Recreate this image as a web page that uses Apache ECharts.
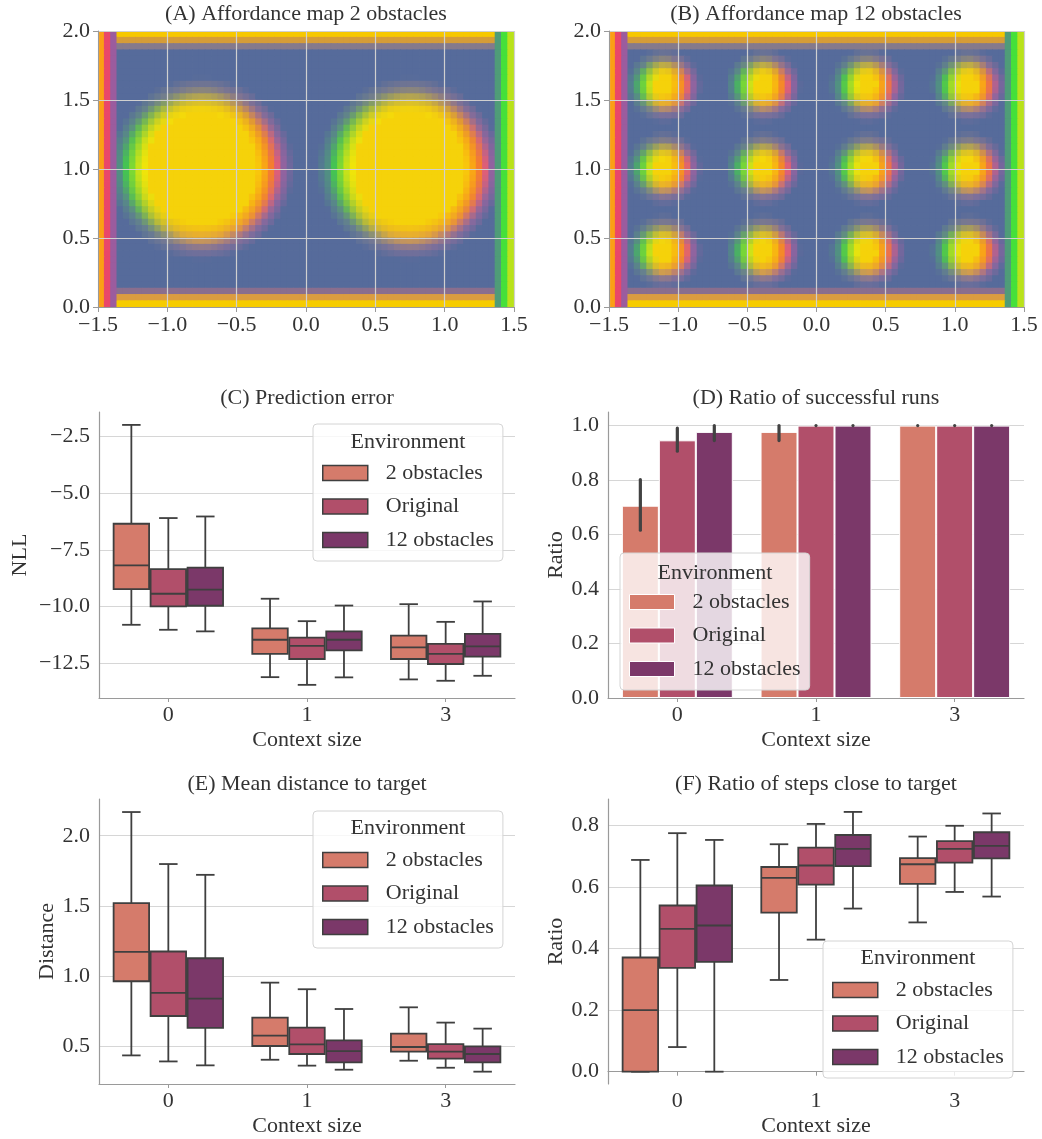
<!DOCTYPE html>
<html>
<head>
<meta charset="utf-8">
<script src="https://cdn.jsdelivr.net/npm/echarts@6/dist/echarts.min.js"></script>
<style>html,body{margin:0;padding:0;background:#fff}#chart{width:1042px;height:1139px}</style>
</head>
<body>
<div id="chart"></div>
<script>
// ================= DATA =================
const contextSizes = ['0', '1', '3'];
const environments = ['2 obstacles', 'Original', '12 obstacles'];

const obstacles2 = [[-0.75, 1.0], [0.75, 1.0]];
const obstacleRadius2 = 0.5;
const obstacles12 = [
  [-1.1, 1.6], [-0.38, 1.6], [0.37, 1.6], [1.1, 1.6],
  [-1.1, 1.0], [-0.38, 1.0], [0.37, 1.0], [1.1, 1.0],
  [-1.1, 0.4], [-0.38, 0.4], [0.37, 0.4], [1.1, 0.4]
];
const obstacleRadius12 = 0.14;

// (C) Prediction error, NLL: [min, q1, median, q3, max] per context size
const nll2    = [[-10.81, -9.24, -8.19, -6.35, -1.99], [-13.12, -12.09, -11.47, -10.97, -9.66], [-13.22, -12.32, -11.81, -11.29, -9.90]];
const nllOrig = [[-11.03, -10.00, -9.44, -8.35, -6.10], [-13.46, -12.32, -11.74, -11.38, -10.65], [-13.28, -12.54, -12.09, -11.65, -10.68]];
const nll12   = [[-11.10, -9.97, -9.26, -8.29, -6.03], [-13.13, -11.94, -11.47, -11.10, -9.96], [-13.06, -12.21, -11.76, -11.21, -9.78]];

// (D) Ratio of successful runs: mean and confidence interval
const success2    = [0.706, 0.977, 1.0];
const successOrig = [0.946, 1.0, 1.0];
const success12   = [0.977, 1.0, 1.0];
const successCi2    = [[0.616, 0.802], [0.945, 1.0], [1.0, 1.0]];
const successCiOrig = [[0.906, 0.991], [1.0, 1.0], [1.0, 1.0]];
const successCi12   = [[0.945, 1.0], [1.0, 1.0], [1.0, 1.0]];

// (E) Mean distance to target: [min, q1, median, q3, max]
const dist2    = [[0.433, 0.962, 1.171, 1.519, 2.169], [0.402, 0.500, 0.574, 0.702, 0.952], [0.395, 0.460, 0.493, 0.588, 0.776]];
const distOrig = [[0.390, 0.714, 0.879, 1.174, 1.798], [0.360, 0.443, 0.512, 0.631, 0.905], [0.345, 0.410, 0.460, 0.514, 0.667]];
const dist12   = [[0.362, 0.629, 0.838, 1.126, 1.721], [0.331, 0.383, 0.464, 0.540, 0.764], [0.317, 0.383, 0.443, 0.498, 0.624]];

// (F) Ratio of steps close to target: [min, q1, median, q3, max]
const close2    = [[0.0, 0.0, 0.200, 0.371, 0.688], [0.298, 0.517, 0.630, 0.665, 0.739], [0.485, 0.610, 0.674, 0.694, 0.764]];
const closeOrig = [[0.080, 0.337, 0.464, 0.540, 0.775], [0.429, 0.608, 0.670, 0.728, 0.805], [0.584, 0.679, 0.724, 0.749, 0.799]];
const close12   = [[0.0, 0.357, 0.475, 0.605, 0.753], [0.530, 0.668, 0.724, 0.769, 0.844], [0.569, 0.693, 0.734, 0.778, 0.839]];

// tick labels
const mapXTicks = [-1.5, -1.0, -0.5, 0.0, 0.5, 1.0, 1.5];
const mapYTicks = [0.0, 0.5, 1.0, 1.5, 2.0];
const nllTicks = [-12.5, -10.0, -7.5, -5.0, -2.5];
const ratioTicks = [0.0, 0.2, 0.4, 0.6, 0.8, 1.0];
const distTicks = [0.5, 1.0, 1.5, 2.0];
const closeTicks = [0.0, 0.2, 0.4, 0.6, 0.8];

// ================= STYLE =================
const FONT = '"Liberation Serif", "DejaVu Serif", serif';
const TEXT = '#333333';
const SPINE = '#9a9a9a';
const GRID = '#d6d6d6';
const MAP_GRID = '#d0d0d0';
const EDGE = '#3f3f3f';
const PALETTE = ['#d57b6b', '#b14f6a', '#7b3869'];

const MAP_NX = 66, MAP_NY = 44;
const MAP_CELL = 3 / MAP_NX;
const hex = h => [parseInt(h.substr(1, 2), 16), parseInt(h.substr(3, 2), 16), parseInt(h.substr(5, 2), 16)];
const BG = hex('#566b9b'), CORE = hex('#f5d20a');
const WALL = {
  left: ['#fb9f15', '#e9476a', '#9b5c9e'].map(hex),
  right: ['#b9e21a', '#45e03a', '#4f9c78'].map(hex),
  top: ['#f6c800', '#d59c38', '#857a8c'].map(hex),
  bottom: ['#f6cc00', '#db9c40', '#8a6e8e'].map(hex)
};
const RING = {
  R: ['#f8c60c', '#f9a616', '#f47e2e', '#de5f78', '#9c62a0'].map(hex),
  U: ['#f5d80a', '#eccc16', '#cbb63a', '#9c9468', '#807a8e'].map(hex),
  L: ['#f0e40a', '#c6e21a', '#7cd834', '#45c452', '#50967e'].map(hex),
  D: ['#f5cc0c', '#f0ba1c', '#e2a63c', '#a8847a', '#82729a'].map(hex)
};
const lerp = (a, b, t) => [a[0] + (b[0] - a[0]) * t, a[1] + (b[1] - a[1]) * t, a[2] + (b[2] - a[2]) * t];
const css = c => 'rgb(' + c.map(v => Math.round(v)).join(',') + ')';
function ringAlpha(r) {
  if (r <= 3) return 1;
  if (r <= 4) return 1 - 0.15 * (r - 3);
  if (r <= 5) return 0.85 - 0.5 * (r - 4);
  if (r <= 5.6) return 0.35 * (5.6 - r) / 0.6;
  return 0;
}
function cellColor(x, y, i, j, obstacles, radius, ringW) {
  if (i < 3) return WALL.left[i];
  if (i >= MAP_NX - 3) return WALL.right[MAP_NX - 1 - i];
  if (j < 3) return WALL.top[j];
  if (j >= MAP_NY - 3) return WALL.bottom[MAP_NY - 1 - j];
  let bd = Infinity, dv = [1, 0];
  obstacles.forEach(o => {
    const dx = x - o[0], dy = y - o[1], d = Math.hypot(dx, dy);
    if (d < bd) { bd = d; dv = [dx, dy]; }
  });
  const r = (bd - radius) / ringW + 2;
  if (r < 0) return CORE;
  if (r >= 5.6) return BG;
  const ang = Math.atan2(dv[1], dv[0]);
  const c = Math.cos(ang), s = Math.sin(ang);
  const w = { R: c > 0 ? c * c : 0, L: c < 0 ? c * c : 0, U: s > 0 ? s * s : 0, D: s < 0 ? s * s : 0 };
  const idx = Math.min(r, 4), i0 = Math.floor(idx), i1 = Math.min(i0 + 1, 4), t = idx - i0;
  let col = [0, 0, 0];
  Object.keys(w).forEach(k => {
    const pc = lerp(RING[k][i0], RING[k][i1], t);
    col = [col[0] + pc[0] * w[k], col[1] + pc[1] * w[k], col[2] + pc[2] * w[k]];
  });
  return lerp(BG, col, ringAlpha(r));
}
function buildMap(obstacles, radius, ringW) {
  const cells = [], colors = [];
  for (let j = 0; j < MAP_NY; j++) {
    for (let i = 0; i < MAP_NX; i++) {
      const x = -1.5 + (i + 0.5) * MAP_CELL;
      const y = 2 - (j + 0.5) * MAP_CELL;
      cells.push([x, y]);
      colors.push(css(cellColor(x, y, i, j, obstacles, radius, ringW)));
    }
  }
  return { cells, colors };
}
const map2 = buildMap(obstacles2, obstacleRadius2, MAP_CELL);
const map12 = buildMap(obstacles12, obstacleRadius12, MAP_CELL * 0.8);

const fmt1 = v => { if (Math.abs(v) < 1e-9) v = 0; return v.toFixed(1).replace('-', '\u2212'); };
const labelStyle = { fontFamily: FONT, fontSize: 22, color: TEXT };

function mapXAxis(g) {
  return {
    type: 'value', gridIndex: g, min: -1.5, max: 1.5, interval: 0.5, z: 5,
    axisLine: { show: true, onZero: false, lineStyle: { color: SPINE, width: 1 } },
    axisTick: { show: true, length: 5, lineStyle: { color: SPINE } },
    axisLabel: Object.assign({ margin: 7, formatter: fmt1, customValues: mapXTicks }, labelStyle),
    splitLine: { show: true, lineStyle: { color: MAP_GRID, width: 1.2 } }
  };
}
function mapYAxis(g) {
  return {
    type: 'value', gridIndex: g, min: 0, max: 2, interval: 0.5, z: 5,
    axisLine: { show: true, onZero: false, lineStyle: { color: SPINE, width: 1 } },
    axisTick: { show: true, length: 5, lineStyle: { color: SPINE } },
    axisLabel: Object.assign({ margin: 8, formatter: fmt1, customValues: mapYTicks }, labelStyle),
    splitLine: { show: true, lineStyle: { color: MAP_GRID, width: 1.2 } }
  };
}
function catAxis(g) {
  return {
    type: 'category', gridIndex: g, data: contextSizes,
    axisLine: { show: true, lineStyle: { color: SPINE, width: 1.2 } },
    axisTick: { show: true, alignWithLabel: true, length: 4, lineStyle: { color: SPINE } },
    axisLabel: Object.assign({ margin: 6 }, labelStyle),
    splitLine: { show: false },
    name: 'Context size', nameLocation: 'middle', nameGap: 31,
    nameTextStyle: Object.assign({}, labelStyle)
  };
}
function valAxis(g, min, max, ticks, name, gap) {
  return {
    type: 'value', gridIndex: g, min: min, max: max,
    axisLine: { show: true, onZero: false, lineStyle: { color: SPINE, width: 1.2 } },
    axisTick: { show: false, customValues: ticks },
    axisLabel: Object.assign({ margin: 9, formatter: fmt1, customValues: ticks }, labelStyle),
    splitLine: { show: true, lineStyle: { color: GRID, width: 1 } },
    name: name, nameLocation: 'middle', nameGap: gap, nameRotate: 90,
    nameTextStyle: Object.assign({}, labelStyle)
  };
}

function mapSeries(g, map) {
  return {
    type: 'custom', xAxisIndex: g, yAxisIndex: g, data: map.cells, silent: true,
    animation: false, progressive: 0, clip: true, z: 1,
    encode: { x: 0, y: 1 },
    renderItem: function (params, api) {
      const x = api.value(0), y = api.value(1), h = MAP_CELL / 2;
      const p0 = api.coord([x - h, y + h]);
      const p1 = api.coord([x + h, y - h]);
      return {
        type: 'rect',
        shape: { x: p0[0] - 0.4, y: p0[1] - 0.4, width: p1[0] - p0[0] + 0.8, height: p1[1] - p0[1] + 0.8 },
        style: { fill: map.colors[params.dataIndex] }
      };
    }
  };
}

function boxSeries(g, k, stats) {
  return {
    type: 'custom', name: environments[k], xAxisIndex: g, yAxisIndex: g,
    itemStyle: { color: PALETTE[k] }, silent: true,
    data: stats.map((s, i) => [i].concat(s)),
    encode: { x: 0, y: [1, 2, 3, 4, 5] },
    renderItem: function (params, api) {
      const c = api.value(0);
      const band = api.size([1, 0])[0];
      const w = band * 0.8 / 3;
      const bw = w - 1.5;
      const cx = api.coord([c, api.value(3)])[0] + (k - 1) * w;
      const yv = idx => api.coord([c, api.value(idx)])[1];
      const yMin = yv(1), yQ1 = yv(2), yMed = yv(3), yQ3 = yv(4), yMax = yv(5);
      const ls = { stroke: EDGE, lineWidth: 1.8, fill: null };
      return {
        type: 'group', children: [
          { type: 'line', shape: { x1: cx, y1: yQ1, x2: cx, y2: yMin }, style: ls },
          { type: 'line', shape: { x1: cx, y1: yQ3, x2: cx, y2: yMax }, style: ls },
          { type: 'line', shape: { x1: cx - w / 4, y1: yMin, x2: cx + w / 4, y2: yMin }, style: ls },
          { type: 'line', shape: { x1: cx - w / 4, y1: yMax, x2: cx + w / 4, y2: yMax }, style: ls },
          { type: 'rect', shape: { x: cx - bw / 2, y: yQ3, width: bw, height: yQ1 - yQ3 }, style: { fill: PALETTE[k], stroke: EDGE, lineWidth: 1.8 } },
          { type: 'line', shape: { x1: cx - bw / 2, y1: yMed, x2: cx + bw / 2, y2: yMed }, style: ls }
        ]
      };
    }
  };
}
function barSeries(k, values) {
  return {
    type: 'bar', name: environments[k], xAxisIndex: 3, yAxisIndex: 3, data: values,
    barGap: '0%', barCategoryGap: '20%', silent: true,
    itemStyle: { color: PALETTE[k], borderColor: '#ffffff', borderWidth: 1 }
  };
}
function ciSeries(k, ci) {
  return {
    type: 'custom', name: 'CI ' + environments[k], xAxisIndex: 3, yAxisIndex: 3, z: 3, silent: true,
    data: ci.map((r, i) => [i, r[0], r[1]]),
    encode: { x: 0, y: [1, 2] },
    renderItem: function (params, api) {
      const c = api.value(0);
      const w = api.size([1, 0])[0] * 0.8 / 3;
      const cx = api.coord([c, api.value(1)])[0] + (k - 1) * w;
      const y1 = api.coord([c, api.value(1)])[1];
      const y2 = api.coord([c, api.value(2)])[1];
      return { type: 'line', shape: { x1: cx, y1: y1, x2: cx, y2: Math.min(y2, y1 - 0.01) }, style: { stroke: '#424242', lineWidth: 3.2, lineCap: 'round' } };
    }
  };
}
function legendAt(left, top, edgeColor, edgeWidth) {
  return {
    orient: 'vertical', left: left, top: top, itemWidth: 45, itemHeight: 15, itemGap: 11.5,
    padding: [38, 9, 10, 9], selectedMode: false,
    backgroundColor: 'rgba(255,255,255,0.8)', borderColor: '#d4d4d4', borderWidth: 1, borderRadius: 4,
    textStyle: { fontFamily: FONT, fontSize: 22, color: TEXT, lineHeight: 20, padding: [0, 0, 0, 13] },
    data: environments.map((n, k) => ({ name: n, icon: 'rect', itemStyle: { color: PALETTE[k], borderColor: edgeColor, borderWidth: edgeWidth } }))
  };
}
function legendTitle(x, y) {
  return {
    type: 'text', x: x, y: y, z: 100,
    style: { text: 'Environment', font: '22px ' + FONT, fill: TEXT, textAlign: 'center', textVerticalAlign: 'middle', align: 'center', verticalAlign: 'middle' }
  };
}
function titleAt(text, x, top) {
  return { text: text, left: x, top: top, textAlign: 'center', padding: 0, textStyle: { fontFamily: FONT, fontSize: 22, fontWeight: 'normal', color: TEXT } };
}

const option = {
  animation: false,
  textStyle: { fontFamily: FONT },
  title: [
    titleAt('(A) Affordance map 2 obstacles', 306, 3),
    titleAt('(B) Affordance map 12 obstacles', 816, 3),
    titleAt('(C) Prediction error', 307, 387),
    titleAt('(D) Ratio of successful runs', 816, 387),
    titleAt('(E) Mean distance to target', 307, 773),
    titleAt('(F) Ratio of steps close to target', 816, 773)
  ],
  grid: [
    { left: 98, top: 31, width: 416, height: 276 },
    { left: 609, top: 31, width: 415, height: 276 },
    { left: 99, top: 412, width: 416, height: 286 },
    { left: 608, top: 412, width: 416, height: 286 },
    { left: 99, top: 799, width: 416, height: 285 },
    { left: 608, top: 799, width: 416, height: 285 }
  ],
  xAxis: [mapXAxis(0), mapXAxis(1), catAxis(2), catAxis(3), catAxis(4), catAxis(5)],
  yAxis: [
    mapYAxis(0), mapYAxis(1),
    valAxis(2, -14.04, -1.42, nllTicks, 'NLL', 68),
    valAxis(3, 0, 1.05, ratioTicks, 'Ratio', 41),
    valAxis(4, 0.229, 2.262, distTicks, 'Distance', 41),
    valAxis(5, -0.040, 0.886, closeTicks, 'Ratio', 41)
  ],
  legend: [
    legendAt(313, 424, EDGE, 1.5),
    legendAt(620, 553, '#ffffff', 1),
    legendAt(313, 811, EDGE, 1.5),
    legendAt(823, 941, EDGE, 1.5)
  ],
  graphic: [
    legendTitle(408, 442),
    legendTitle(715, 573),
    legendTitle(408, 828),
    legendTitle(918, 958)
  ],
  series: [
    mapSeries(0, map2),
    mapSeries(1, map12),
    boxSeries(2, 0, nll2), boxSeries(2, 1, nllOrig), boxSeries(2, 2, nll12),
    barSeries(0, success2), barSeries(1, successOrig), barSeries(2, success12),
    ciSeries(0, successCi2), ciSeries(1, successCiOrig), ciSeries(2, successCi12),
    boxSeries(4, 0, dist2), boxSeries(4, 1, distOrig), boxSeries(4, 2, dist12),
    boxSeries(5, 0, close2), boxSeries(5, 1, closeOrig), boxSeries(5, 2, close12)
  ]
};
const chart = echarts.init(document.getElementById('chart'), null, { renderer: 'canvas' });
chart.setOption(option);
</script>
</body>
</html>
